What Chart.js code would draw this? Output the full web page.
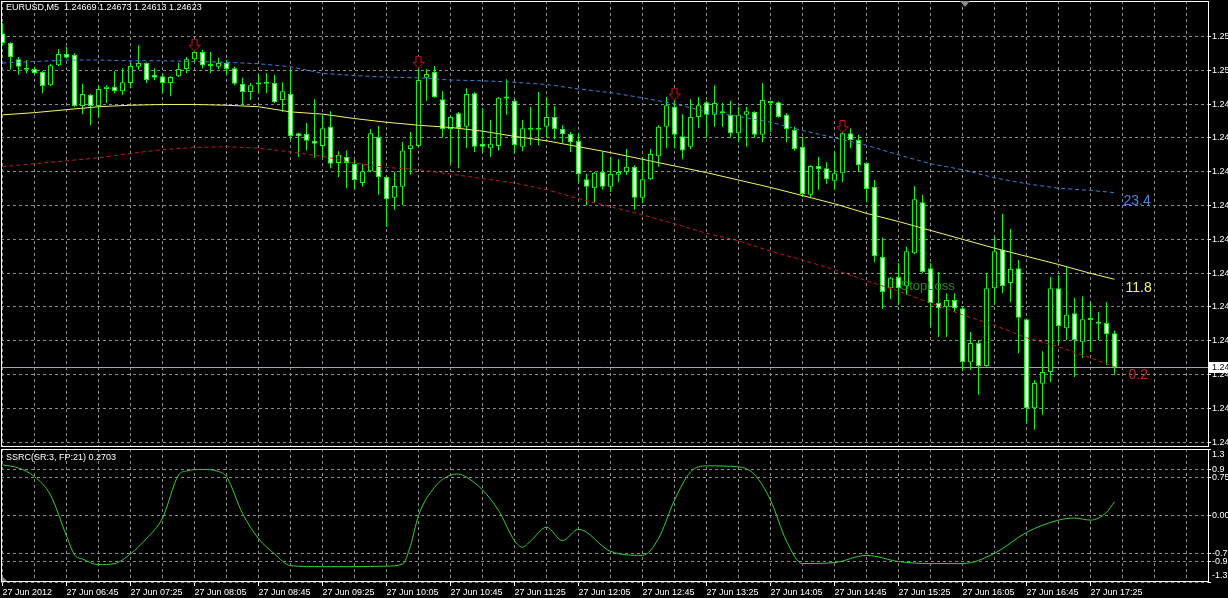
<!DOCTYPE html>
<html>
<head>
<meta charset="utf-8">
<script src="https://cdn.jsdelivr.net/npm/chart.js@4/dist/chart.umd.min.js"></script>
<style>
  html, body { margin: 0; padding: 0; background: #000; overflow: hidden; }
  #wrap { position: relative; width: 1228px; height: 598px; }
  canvas { position: absolute; left: 0; }
  #main { top: 0; }
  #ind { top: 448px; }
</style>
</head>
<body>
<div id="wrap">
  <canvas id="main" width="1228" height="448" style="width:1228px;height:448px"></canvas>
  <canvas id="ind" width="1228" height="150" style="width:1228px;height:150px"></canvas>
</div>
<script>
// EURUSD M5, 27 Jun 2012, one bar every 5 minutes from 06:05
var tickLabels = ['27 Jun 2012','27 Jun 06:45','27 Jun 07:25','27 Jun 08:05','27 Jun 08:45','27 Jun 09:25',
  '27 Jun 10:05','27 Jun 10:45','27 Jun 11:25','27 Jun 12:05','27 Jun 12:45','27 Jun 13:25','27 Jun 14:05',
  '27 Jun 14:45','27 Jun 15:25','27 Jun 16:05','27 Jun 16:45','27 Jun 17:25'];

var open = [1.25074,1.25061,1.25039,1.25025,1.25026,1.25022,1.25004,1.25031,1.25046,1.25045,
  1.24976,1.24991,1.24976,1.24999,1.25002,1.24996,1.25007,1.25029,1.25034,1.25018,
  1.25016,1.25007,1.25016,1.25026,1.25039,1.25049,1.25031,1.25029,1.25034,1.25027,
  1.25006,1.24995,1.25006,1.25007,1.25007,1.24984,1.24992,1.24939,1.24938,1.24929,
  1.24922,1.24948,1.24899,1.24907,1.24898,1.24872,1.24888,1.24934,1.24880,1.24852,
  1.24867,1.24918,1.24922,1.25014,1.25022,1.24985,1.24945,1.24966,1.24948,1.24993,
  1.24925,1.24919,1.24922,1.24986,1.24983,1.24921,1.24945,1.24945,1.24948,1.24961,
  1.24945,1.24938,1.24929,1.24877,1.24865,1.24887,1.24867,1.24883,1.24887,1.24894,
  1.24852,1.24877,1.24908,1.24948,1.24975,1.24935,1.24921,1.24961,1.24981,1.24964,
  1.24966,1.24964,1.24939,1.24964,1.24968,1.24937,1.24980,1.24981,1.24964,1.24944,
  1.24921,1.24856,1.24895,1.24892,1.24875,1.24885,1.24939,1.24930,1.24899,1.24867,
  1.24772,1.24730,1.24745,1.24733,1.24777,1.24846,1.24757,1.24710,1.24705,1.24714,
  1.24703,1.24630,1.24656,1.24625,1.24730,1.24782,1.24737,1.24757,1.24688,1.24568,
  1.24601,1.24617,1.24730,1.24676,1.24696,1.24657,1.24688,1.24683,1.24683,1.24669];

var high = [1.25088,1.25062,1.25042,1.25038,1.25029,1.25023,1.25033,1.25053,1.25056,1.25047,
  1.25006,1.24992,1.25004,1.25004,1.25023,1.25027,1.25034,1.25058,1.25035,1.25027,
  1.25020,1.25016,1.25034,1.25042,1.25053,1.25052,1.25049,1.25041,1.25038,1.25029,
  1.25014,1.25007,1.25018,1.25020,1.25018,1.25008,1.25025,1.24940,1.24953,1.24985,
  1.24964,1.24969,1.24915,1.24916,1.24904,1.24898,1.24945,1.24949,1.24881,1.24887,
  1.24927,1.24941,1.25034,1.25026,1.25030,1.24996,1.24962,1.24968,1.25000,1.24995,
  1.24973,1.24957,1.24988,1.25012,1.24985,1.24957,1.24975,1.24995,1.24988,1.24976,
  1.24950,1.24941,1.24939,1.24884,1.24887,1.24914,1.24907,1.24904,1.24918,1.24896,
  1.24907,1.24918,1.24950,1.24988,1.24984,1.24965,1.24985,1.24988,1.24983,1.25004,
  1.24980,1.24983,1.24975,1.24975,1.24969,1.25007,1.24983,1.24982,1.24966,1.24948,
  1.24934,1.24896,1.24907,1.24900,1.24914,1.24948,1.24946,1.24937,1.24900,1.24876,
  1.24798,1.24745,1.24764,1.24786,1.24868,1.24856,1.24764,1.24752,1.24723,1.24723,
  1.24705,1.24671,1.24660,1.24750,1.24799,1.24830,1.24810,1.24768,1.24689,1.24606,
  1.24645,1.24745,1.24748,1.24759,1.24717,1.24719,1.24711,1.24698,1.24711,1.24673];

var low = [1.25058,1.25025,1.25018,1.25020,1.25019,1.24993,1.25003,1.25030,1.25040,1.24975,
  1.24965,1.24950,1.24960,1.24980,1.24993,1.24991,1.25000,1.25025,1.25007,1.25011,
  1.24993,1.24989,1.25015,1.25020,1.25035,1.25027,1.25020,1.25026,1.25018,1.25004,
  1.24977,1.24984,1.24993,1.24993,1.24980,1.24968,1.24930,1.24907,1.24916,1.24906,
  1.24906,1.24892,1.24880,1.24865,1.24863,1.24867,1.24887,1.24856,1.24813,1.24836,
  1.24842,1.24883,1.24921,1.24983,1.24987,1.24933,1.24899,1.24892,1.24919,1.24914,
  1.24914,1.24907,1.24916,1.24964,1.24912,1.24915,1.24923,1.24923,1.24933,1.24931,
  1.24926,1.24914,1.24872,1.24842,1.24845,1.24863,1.24860,1.24873,1.24883,1.24836,
  1.24845,1.24876,1.24894,1.24919,1.24919,1.24904,1.24918,1.24946,1.24933,1.24948,
  1.24948,1.24933,1.24927,1.24921,1.24933,1.24927,1.24941,1.24960,1.24927,1.24916,
  1.24853,1.24853,1.24863,1.24871,1.24863,1.24873,1.24919,1.24887,1.24846,1.24765,
  1.24702,1.24715,1.24707,1.24721,1.24776,1.24750,1.24678,1.24664,1.24664,1.24698,
  1.24618,1.24620,1.24586,1.24624,1.24707,1.24723,1.24711,1.24642,1.24548,1.24539,
  1.24559,1.24603,1.24656,1.24660,1.24610,1.24636,1.24644,1.24660,1.24626,1.24613];

var close = [1.25061,1.25042,1.25029,1.25026,1.25020,1.25003,1.25031,1.25046,1.25041,1.24976,
  1.24992,1.24976,1.24999,1.25002,1.24996,1.25008,1.25030,1.25034,1.25011,1.25014,
  1.25007,1.25015,1.25026,1.25039,1.25049,1.25031,1.25030,1.25034,1.25026,1.25006,
  1.24995,1.25004,1.25005,1.25006,1.24981,1.24996,1.24935,1.24935,1.24929,1.24925,
  1.24946,1.24898,1.24910,1.24899,1.24876,1.24888,1.24939,1.24880,1.24850,1.24868,
  1.24916,1.24923,1.25011,1.25019,1.24988,1.24945,1.24961,1.24946,1.24992,1.24921,
  1.24921,1.24925,1.24987,1.24987,1.24923,1.24946,1.24944,1.24944,1.24961,1.24945,
  1.24938,1.24927,1.24884,1.24867,1.24886,1.24867,1.24884,1.24887,1.24894,1.24852,
  1.24877,1.24911,1.24948,1.24977,1.24937,1.24916,1.24961,1.24977,1.24964,1.24980,
  1.24967,1.24939,1.24964,1.24969,1.24937,1.24984,1.24981,1.24961,1.24945,1.24918,
  1.24857,1.24895,1.24891,1.24877,1.24885,1.24939,1.24930,1.24896,1.24864,1.24773,
  1.24725,1.24744,1.24730,1.24780,1.24850,1.24752,1.24710,1.24703,1.24714,1.24703,
  1.24630,1.24656,1.24625,1.24730,1.24780,1.24733,1.24756,1.24690,1.24568,1.24602,
  1.24617,1.24730,1.24679,1.24694,1.24660,1.24688,1.24687,1.24682,1.24668,1.24623];

// moving-average style lines, read at these bars
var maBars = [0,4,8,12,16,20,24,28,32,36,40,44,48,52,56,60,64,68,72,76,80,84,88,92,96,100,104,108,112,116,120,124,128,132,136,139];
var maBlue = [1.25034,1.25036,1.25038,1.25038,1.25037,1.25037,1.25036,1.25035,1.25033,1.25029,1.25020,1.25017,
  1.25015,1.25014,1.25011,1.25010,1.25008,1.25005,1.24999,1.24994,1.24987,1.24979,1.24968,1.24962,
  1.24954,1.24943,1.24933,1.24923,1.24910,1.24898,1.24890,1.24879,1.24871,1.24865,1.24862,1.24859];
var maYellow = [1.24964,1.24967,1.24971,1.24975,1.24977,1.24978,1.24978,1.24977,1.24975,1.24968,1.24965,1.24959,
  1.24954,1.24950,1.24947,1.24942,1.24935,1.24929,1.24921,1.24913,1.24904,1.24895,1.24886,1.24876,
  1.24866,1.24855,1.24844,1.24831,1.24820,1.24808,1.24796,1.24784,1.24773,1.24762,1.24750,1.24742];
var maRed = [1.24894,1.24898,1.24902,1.24906,1.24912,1.24917,1.24920,1.24921,1.24919,1.24914,1.24908,1.24899,
  1.24893,1.24890,1.24884,1.24878,1.24872,1.24863,1.24851,1.24840,1.24829,1.24817,1.24804,1.24794,
  1.24780,1.24768,1.24755,1.24740,1.24726,1.24710,1.24694,1.24680,1.24663,1.24651,1.24636,1.24624];
var maLabels = ['23.4', '11.8', '0.2'];

var arrowBars = [24, 52, 84, 105];
var arrowPrice = [1.25058, 1.25035, 1.24992, 1.24948];

var priceTicks = [1.25070,1.25024,1.24978,1.24933,1.24887,1.24841,1.24796,1.24750,1.24705,1.24659,1.24613,1.24568,1.24522];

var ssrcBars = [0,2,4,6,8,9,10,12,14,16,18,20,22,23,25,27,28,30,32,34,36,40,44,48,50,51,52,54,56,57,58,60,62,64,65,66,68,70,72,
  76,80,82,84,86,88,92,94,96,98,100,104,108,112,116,120,124,128,132,134,136,138,139];
var ssrcVals = [0.99,0.93,0.76,0.40,-0.40,-0.77,-0.85,-0.96,-0.94,-0.75,-0.45,-0.05,0.79,0.87,0.90,0.86,0.76,0.04,-0.45,-0.75,-0.98,
  -1.00,-1.00,-0.99,-0.95,-0.59,0.00,0.55,0.79,0.81,0.75,0.50,0.10,-0.49,-0.62,-0.50,-0.23,-0.49,-0.27,
  -0.70,-0.78,-0.45,0.30,0.85,0.97,0.95,0.80,0.30,-0.50,-0.94,-0.92,-0.78,-0.90,-0.94,-0.94,-0.74,-0.33,-0.09,-0.05,-0.09,0.06,0.2703];
var ssrcLevels = [1.3, 0.9, 0.75, 0, -0.75, -0.9, -1.3];
var ssrcLevelLabels = ['1.3', '0.9', '0.75', '0.00', '-0.75', '-0.9', '-1.3'];

var slBar = 112.25, slPrice = 1.24733;

Chart.defaults.font.family = "Tahoma, 'Liberation Sans', Arial, sans-serif";
Chart.defaults.font.size = 9;
Chart.defaults.color = '#ffffff';

var GRID = '#8c8c8c';
var X_MIN = -0.1875, X_MAX = 150.6875;

function xAxis(withLabels) {
  return {
    type: 'linear', min: X_MIN, max: X_MAX, offset: false,
    afterBuildTicks: function (s) {
      var t = [];
      for (var v = 0; v <= 148; v += 4) t.push({ value: v });
      s.ticks = t;
    },
    grid: {
      offset: false, color: GRID, drawTicks: withLabels, tickLength: 4,
      tickColor: function (c) {
        return c.tick && c.tick.value % 8 === 0 && c.tick.value / 8 < tickLabels.length ? '#ffffff' : 'rgba(0,0,0,0)';
      }
    },
    border: { display: false, dash: [3, 3] },
    ticks: {
      display: withLabels, autoSkip: false, maxRotation: 0, minRotation: 0, align: 'start', padding: 1,
      color: '#ffffff',
      callback: function (v) { return (v % 8 === 0 && v / 8 < tickLabels.length) ? tickLabels[v / 8] : ''; }
    },
    afterFit: function (s) { s.height = withLabels ? 16 : 0; s.paddingLeft = 0; s.paddingRight = 0; }
  };
}

function arrowImage() {
  var c = document.createElement('canvas');
  c.width = 12; c.height = 13;
  var g = c.getContext('2d');
  g.beginPath();
  g.moveTo(3.5, 0.5); g.lineTo(8.5, 0.5); g.lineTo(8.5, 6.5); g.lineTo(11.5, 6.5);
  g.lineTo(6, 12.5); g.lineTo(0.5, 6.5); g.lineTo(3.5, 6.5); g.closePath();
  g.fillStyle = '#000'; g.fill();
  g.strokeStyle = '#d41414'; g.lineWidth = 1; g.stroke();
  return c;
}

var idx = open.map(function (_, i) { return i; });
function pts(bars, vals) { return bars.map(function (b, k) { return { x: b, y: vals[k] }; }); }

var mainDecor = {
  id: 'mainDecor',
  beforeDatasetsDraw: function (chart) {
    var ctx = chart.ctx, a = chart.chartArea, y = chart.scales.y;
    var py = Math.round(y.getPixelForValue(close[close.length - 1])) + 0.5;
    ctx.save();
    ctx.strokeStyle = '#a4a4b4'; ctx.lineWidth = 1;
    ctx.beginPath(); ctx.moveTo(a.left, py); ctx.lineTo(a.right, py); ctx.stroke();
    ctx.restore();
  },
  afterDraw: function (chart) {
    var ctx = chart.ctx, a = chart.chartArea, x = chart.scales.x, y = chart.scales.y;
    var n = close.length - 1;
    ctx.save();
    ctx.strokeStyle = '#ffffff'; ctx.lineWidth = 1;
    ctx.strokeRect(a.left + 0.5, a.top + 0.5, a.right - a.left, a.bottom - a.top - 1);

    ctx.font = "9px Tahoma, 'Liberation Sans', Arial, sans-serif";
    ctx.textBaseline = 'middle'; ctx.textAlign = 'left';
    ctx.fillStyle = '#ffffff';
    ctx.fillText('EURUSD,M5  ' + open[n].toFixed(5) + ' ' + high[n].toFixed(5) + ' ' +
      low[n].toFixed(5) + ' ' + close[n].toFixed(5), 6, 8);

    // bid price box on the scale
    var py = Math.round(y.getPixelForValue(close[n]));
    ctx.fillStyle = '#ffffff';
    ctx.fillRect(a.right + 1, py - 5, 20, 11);
    ctx.fillStyle = '#000000';
    ctx.fillText(close[n].toFixed(5), a.right + 4, py + 0.5);

    // labels at the end of the three lines
    var cols = ['#4b82d6', '#f4f46a', '#c42a2a'];
    var dx = [9, 11, 14];
    ctx.font = "14px Tahoma, 'Liberation Sans', Arial, sans-serif";
    for (var k = 0; k < 3; k++) {
      var m = chart.getDatasetMeta(2 + k).data;
      var p = m[m.length - 1];
      ctx.fillStyle = cols[k];
      ctx.fillText(maLabels[k], p.x + dx[k], p.y + 8.5);
    }

    ctx.font = "13px Tahoma, 'Liberation Sans', Arial, sans-serif";
    ctx.fillStyle = '#2b8a2b';
    ctx.fillText('StopLoss', x.getPixelForValue(slBar), y.getPixelForValue(slPrice));

    // shift marker on top edge
    ctx.fillStyle = '#8a8a8a';
    ctx.beginPath(); ctx.moveTo(960, 1); ctx.lineTo(970, 1); ctx.lineTo(965, 7); ctx.closePath(); ctx.fill();
    ctx.restore();
  }
};

new Chart(document.getElementById('main').getContext('2d'), {
  type: 'bar',
  data: {
    datasets: [
      {
        label: 'wick', order: 4,
        data: idx.map(function (i) { return { x: i, y: [low[i], high[i]] }; }),
        backgroundColor: '#00ff00', borderWidth: 0,
        grouped: false, categoryPercentage: 1, barPercentage: 0.125, inflateAmount: 0
      },
      {
        label: 'body', order: 3,
        data: idx.map(function (i) { return { x: i, y: [open[i], close[i]] }; }),
        backgroundColor: idx.map(function (i) { return close[i] < open[i] ? '#ffffff' : '#000000'; }),
        borderColor: '#00ff00', borderWidth: 1, borderSkipped: false, minBarLength: 2,
        grouped: false, categoryPercentage: 1, barPercentage: 0.625, inflateAmount: 0
      },
      {
        type: 'line', label: 'upper', order: 2, data: pts(maBars, maBlue),
        borderColor: '#3f7fd8', borderWidth: 1, borderDash: [4, 3], pointRadius: 0, tension: 0
      },
      {
        type: 'line', label: 'middle', order: 2, data: pts(maBars, maYellow),
        borderColor: '#f4f46a', borderWidth: 1, pointRadius: 0, tension: 0
      },
      {
        type: 'line', label: 'lower', order: 2, data: pts(maBars, maRed),
        borderColor: '#c01c1c', borderWidth: 1, borderDash: [4, 3], pointRadius: 0, tension: 0
      },
      {
        type: 'line', label: 'signal', order: 1, data: pts(arrowBars, arrowPrice),
        showLine: false, pointStyle: arrowImage(), pointRadius: 6
      }
    ]
  },
  options: {
    responsive: false, animation: false, events: [],
    layout: { autoPadding: false, padding: { left: 1, top: 1, right: 0, bottom: 1 } },
    plugins: { legend: { display: false }, tooltip: { enabled: false } },
    scales: {
      x: xAxis(false),
      y: {
        position: 'right', min: 1.245156, max: 1.251177,
        afterBuildTicks: function (s) { s.ticks = priceTicks.map(function (v) { return { value: v }; }); },
        grid: { color: GRID, drawTicks: true, tickLength: 3, tickColor: '#ffffff' },
        border: { display: false, dash: [3, 3] },
        ticks: { color: '#ffffff', padding: 1, callback: function (v) { return v.toFixed(5); } },
        afterFit: function (s) { s.width = 20; s.paddingTop = 0; s.paddingBottom = 0; }
      }
    }
  },
  plugins: [mainDecor]
});

var indDecor = {
  id: 'indDecor',
  afterDraw: function (chart) {
    var ctx = chart.ctx, a = chart.chartArea, y = chart.scales.y;
    ctx.save();
    ctx.strokeStyle = '#ffffff'; ctx.lineWidth = 1;
    ctx.strokeRect(a.left + 0.5, a.top + 0.5, a.right - a.left, a.bottom - a.top - 1);
    ctx.font = "9px Tahoma, 'Liberation Sans', Arial, sans-serif";
    ctx.textBaseline = 'middle'; ctx.textAlign = 'left'; ctx.fillStyle = '#ffffff';
    ctx.fillText('SSRC(SR:3, FP:21) ' + ssrcVals[ssrcVals.length - 1].toFixed(4), 6, 10);
    for (var i = 0; i < ssrcLevels.length; i++) {
      var py = y.getPixelForValue(ssrcLevels[i]);
      if (i === 0) py += 6;
      if (i === ssrcLevels.length - 1) py -= 6;
      ctx.fillText(ssrcLevelLabels[i], a.right + 4, py);
    }
    ctx.fillStyle = '#8a8a8a';
    ctx.beginPath(); ctx.moveTo(a.left + 1, a.bottom - 1); ctx.lineTo(a.left + 6, a.bottom - 1); ctx.lineTo(a.left + 1, a.bottom - 6); ctx.closePath(); ctx.fill();
    ctx.restore();
  }
};

new Chart(document.getElementById('ind').getContext('2d'), {
  type: 'line',
  data: {
    datasets: [{
      label: 'SSRC', data: pts(ssrcBars, ssrcVals),
      borderColor: '#34d034', borderWidth: 1, pointRadius: 0, cubicInterpolationMode: 'monotone'
    }]
  },
  options: {
    responsive: false, animation: false, events: [],
    layout: { autoPadding: false, padding: { left: 1, top: 1, right: 0, bottom: 0 } },
    plugins: { legend: { display: false }, tooltip: { enabled: false } },
    scales: {
      x: xAxis(true),
      y: {
        position: 'right', min: -1.3, max: 1.3,
        afterBuildTicks: function (s) { s.ticks = ssrcLevels.map(function (v) { return { value: v }; }); },
        grid: { color: GRID, drawTicks: true, tickLength: 3, tickColor: '#ffffff' },
        border: { display: false, dash: [3, 3] },
        ticks: { display: false },
        afterFit: function (s) { s.width = 20; s.paddingTop = 0; s.paddingBottom = 0; }
      }
    }
  },
  plugins: [indDecor]
});
</script>
</body>
</html>
